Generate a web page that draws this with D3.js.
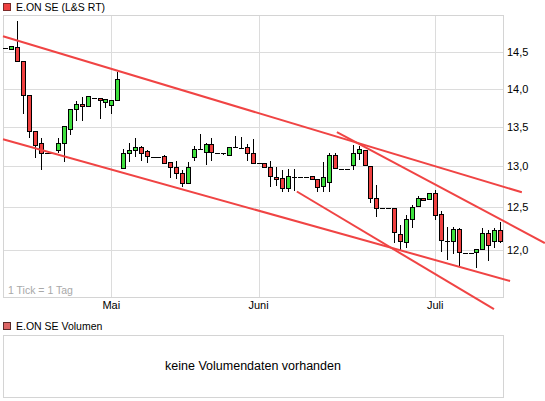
<!DOCTYPE html>
<html lang="de">
<head>
  <meta charset="UTF-8" />
  <title>E.ON SE (L&S RT)</title>
  <script src="https://d3js.org/d3.v7.min.js"></script>
  <style>
    body { margin: 0; background: #fff; font-family: "Liberation Sans", Arial, sans-serif; }
    svg { display: block; }
    .grid line { stroke: #dcdcdc; stroke-width: 1; shape-rendering: crispEdges; }
    .frame { fill: none; stroke: #d4d4d4; shape-rendering: crispEdges; }
    .lbl { font-size: 11px; fill: #000; }
  </style>
</head>
<body>
<svg width="545" height="401"></svg>
<script>
  // Tageskerzen (Reihenfolge = Handelstage)
  const open  = [14.55,14.54,14.56,14.37,13.91,13.44,13.28,13.16,13.16,13.20,13.28,13.46,13.73,13.79,13.77,13.88,13.87,13.82,13.78,13.84,
                 12.97,13.16,13.20,13.23,13.18,13.12,13.12,13.12,13.05,12.99,12.91,12.79,13.11,13.21,13.17,13.27,13.17,13.16,13.14,13.24,
                 13.23,13.23,13.16,13.04,13.03,12.99,12.86,12.85,12.73,12.87,12.87,12.87,12.87,12.84,12.75,12.80,13.14,12.97,12.97,13.01,
                 13.16,13.20,13.00,12.61,12.49,12.49,12.49,12.18,12.09,12.36,12.51,12.61,12.59,12.66,12.41,12.10,12.10,12.24,11.97,11.97,
                 11.97,12.01,12.19,12.10,12.22];
  const high  = [14.56,14.58,14.94,14.37,13.91,13.44,13.36,13.16,13.16,13.36,13.50,13.72,13.84,13.89,13.89,13.88,13.87,13.85,13.84,14.22,
                 13.22,13.29,13.36,13.25,13.20,13.12,13.12,13.14,13.05,13.06,12.95,13.05,13.25,13.41,13.29,13.35,13.17,13.16,13.24,13.38,
                 13.37,13.28,13.34,13.04,13.03,13.07,12.99,12.95,12.96,12.96,12.87,12.87,12.87,12.84,13.05,13.17,13.16,12.97,12.97,13.27,
                 13.25,13.20,13.00,12.77,12.49,12.49,12.49,12.29,12.41,12.53,12.64,12.61,12.67,12.71,12.45,12.27,12.27,12.26,11.97,11.97,
                 12.01,12.25,12.23,12.25,12.33];
  const low   = [14.54,14.53,14.37,13.66,13.36,13.10,12.95,13.16,13.16,13.16,13.05,13.39,13.57,13.57,13.77,13.88,13.60,13.74,13.66,13.84,
                 12.97,13.05,13.12,13.07,13.04,13.12,13.11,13.04,12.85,12.84,12.75,12.79,13.06,13.21,13.02,13.06,13.17,13.14,13.14,13.24,
                 13.21,13.07,13.04,13.04,12.98,12.75,12.76,12.69,12.69,12.70,12.87,12.87,12.84,12.69,12.69,12.69,12.97,12.97,12.97,12.95,
                 13.08,13.01,12.55,12.39,12.49,12.49,12.08,12.00,12.02,12.26,12.51,12.58,12.59,12.35,11.98,11.89,11.95,11.82,11.97,11.97,
                 11.79,12.01,11.87,12.02,12.08];
  const close = [14.55,14.57,14.37,13.91,13.44,13.26,13.16,13.16,13.16,13.28,13.50,13.72,13.79,13.77,13.89,13.88,13.84,13.85,13.84,14.13,
                 13.16,13.20,13.23,13.16,13.12,13.12,13.12,13.04,12.99,12.91,12.79,12.99,13.21,13.21,13.27,13.17,13.17,13.16,13.24,13.24,
                 13.23,13.16,13.04,13.04,12.99,12.87,12.84,12.73,12.87,12.87,12.87,12.87,12.84,12.74,12.86,13.14,12.97,12.97,12.97,13.16,
                 13.21,13.01,12.61,12.49,12.49,12.49,12.20,12.10,12.36,12.50,12.60,12.58,12.67,12.40,12.11,12.10,12.24,11.97,11.97,11.97,
                 12.01,12.19,12.05,12.22,12.10];

  const priceTicks  = [12.0, 12.5, 13.0, 13.5, 14.0, 14.5];
  const monthLabels = ["Mai", "Juni", "Juli"];
  const monthStart  = [18, 43, 73];   // Index des ersten Tages im Monat

  // Trendlinien: [Tag von, Kurs von, Tag bis, Kurs bis]
  const trendLines = [
    [-0.39, 14.72, 87.7, 12.68],
    [-0.39, 13.34, 85.7, 11.65],
    [49.5, 12.69, 82.97, 11.34],
    [56.3, 13.43, 91.6, 12.08]
  ];

  const svg = d3.select("svg");
  const plot = {left: 3, right: 503, top: 15, bottom: 297};

  const x = d3.scaleLinear().domain([-0.39, 84.5]).range([plot.left, plot.right]);
  const y = d3.scaleLog().domain([12, 14.5]).range([250, 52]);

  // Titel
  svg.append("rect").attr("x", 3.5).attr("y", 3.5).attr("width", 7).attr("height", 7)
     .attr("fill", "#ee4040").attr("stroke", "#7a2a2a");
  svg.append("text").attr("x", 16).attr("y", 11).attr("font-size", "10.5px").text("E.ON SE (L&S RT)");

  // Gitter
  const grid = svg.append("g").attr("class", "grid");
  grid.selectAll(".h").data(priceTicks).enter().append("line")
      .attr("x1", plot.left).attr("x2", plot.right)
      .attr("y1", d => Math.round(y(d)) + 0.5).attr("y2", d => Math.round(y(d)) + 0.5);
  grid.selectAll(".v").data(monthStart).enter().append("line")
      .attr("x1", d => Math.round(x(d)) + 0.5).attr("x2", d => Math.round(x(d)) + 0.5)
      .attr("y1", plot.top).attr("y2", plot.bottom);

  svg.append("rect").attr("class", "frame")
     .attr("x", plot.left + 0.5).attr("y", plot.top + 0.5)
     .attr("width", plot.right - plot.left).attr("height", plot.bottom - plot.top);

  // Achsenbeschriftung
  svg.selectAll(".ylbl").data(priceTicks).enter().append("text")
     .attr("class", "lbl").attr("x", 507).attr("y", d => y(d)).attr("dy", "0.36em")
     .text(d => d.toFixed(1).replace(".", ","));

  svg.selectAll(".xlbl").data(monthStart).enter().append("text")
     .attr("class", "lbl").attr("x", d => x(d)).attr("y", 309).attr("text-anchor", "middle")
     .attr("font-size", "10.5px")
     .text((d, i) => monthLabels[i]);

  svg.append("text").attr("x", 8).attr("y", 294).attr("font-size", "10.5px")
     .attr("fill", "#a8a8a8").text("1 Tick = 1 Tag");

  // Kerzen
  const candles = svg.append("g").attr("shape-rendering", "crispEdges");
  const days = open.map((o, i) => ({i, o, h: high[i], l: low[i], c: close[i]}));

  candles.selectAll(".wick").data(days.filter(d => y(d.l) - y(d.h) > 1)).enter().append("line")
     .attr("x1", d => Math.round(x(d.i)) + 0.5).attr("x2", d => Math.round(x(d.i)) + 0.5)
     .attr("y1", d => y(d.h)).attr("y2", d => y(d.l))
     .attr("stroke", "#000");

  const bodies = days.filter(d => Math.abs(y(d.o) - y(d.c)) >= 1.5);
  candles.selectAll(".body").data(bodies).enter().append("rect")
     .attr("x", d => Math.round(x(d.i)) - 1.5).attr("width", 4)
     .attr("y", d => Math.min(y(d.o), y(d.c)))
     .attr("height", d => Math.abs(y(d.o) - y(d.c)))
     .attr("fill", d => d.c >= d.o ? "#3ee03e" : "#ef4040")
     .attr("stroke", "#000");

  const dashes = days.filter(d => Math.abs(y(d.o) - y(d.c)) < 1.5);
  candles.selectAll(".dash").data(dashes).enter().append("line")
     .attr("x1", d => Math.round(x(d.i)) - 2).attr("x2", d => Math.round(x(d.i)) + 3)
     .attr("y1", d => Math.round(y(d.c)) + 0.5).attr("y2", d => Math.round(y(d.c)) + 0.5)
     .attr("stroke", "#000").attr("stroke-width", 1.2);

  // Trendlinien
  svg.selectAll(".trend").data(trendLines).enter().append("line")
     .attr("x1", d => x(d[0])).attr("y1", d => y(d[1]))
     .attr("x2", d => x(d[2])).attr("y2", d => y(d[3]))
     .attr("stroke", "#f04444").attr("stroke-width", 2);

  // Volumen-Panel
  svg.append("rect").attr("x", 3.5).attr("y", 322.5).attr("width", 7).attr("height", 7)
     .attr("fill", "#dd6666").attr("stroke", "#5a2a2a");
  svg.append("text").attr("x", 16).attr("y", 330).attr("font-size", "10.5px").text("E.ON SE Volumen");

  svg.append("rect").attr("class", "frame")
     .attr("x", 3.5).attr("y", 335.5).attr("width", 500).attr("height", 62);
  svg.append("text").attr("x", 253).attr("y", 370).attr("text-anchor", "middle")
     .attr("font-size", "12.5px").text("keine Volumendaten vorhanden");
</script>
</body>
</html>
